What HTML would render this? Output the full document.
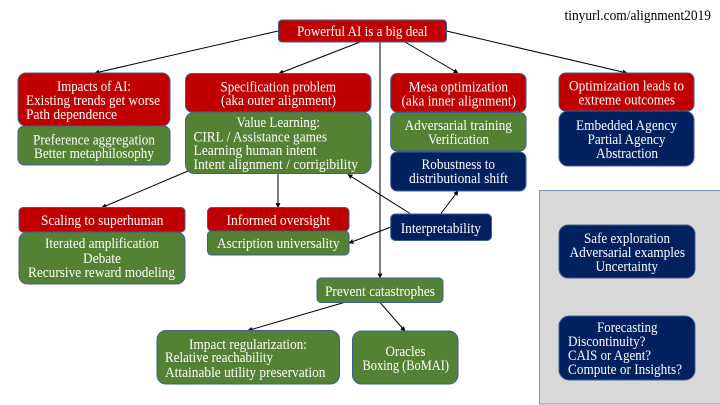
<!DOCTYPE html>
<html><head><meta charset="utf-8"><title>Alignment diagram</title>
<style>
html,body{margin:0;padding:0;background:#fff;width:720px;height:405px;overflow:hidden}
svg{display:block}
text{font-family:"Liberation Serif",serif;font-size:14.5px;fill:#fff}
rect.b{stroke:#3f5f94;stroke-width:1}
.r{fill:#c00000}.g{fill:#548235}.n{fill:#002060}
line{stroke:#000;stroke-width:1}
</style></head><body>
<svg width="720" height="405" viewBox="0 0 720 405" xmlns="http://www.w3.org/2000/svg">
<defs><marker id="a" viewBox="0 0 8 8" refX="7" refY="4" markerWidth="5" markerHeight="5" orient="auto" markerUnits="userSpaceOnUse"><path d="M0 0L8 4L0 8Z" fill="#000"/></marker></defs>
<rect width="720" height="405" fill="#fff"/>

<!-- grey panel -->
<rect x="539.5" y="190.5" width="183" height="213.5" fill="#d9d9d9" stroke="#7f93b8" stroke-width="1"/>

<!-- connectors -->
<g>
<line x1="278" y1="31" x2="95" y2="73" marker-end="url(#a)"/>
<line x1="360" y1="42" x2="279" y2="73.5" marker-end="url(#a)"/>
<line x1="405" y1="42" x2="458" y2="73" marker-end="url(#a)"/>
<line x1="446.5" y1="31" x2="627" y2="73" marker-end="url(#a)"/>
<line x1="380" y1="42" x2="380" y2="278" marker-end="url(#a)"/>
<line x1="188" y1="171" x2="102" y2="207.5" marker-end="url(#a)"/>
<line x1="278" y1="173.5" x2="278" y2="207.5" marker-end="url(#a)"/>
<line x1="410" y1="213.5" x2="348" y2="174.5" marker-end="url(#a)"/>
<line x1="441" y1="213.5" x2="458" y2="191" marker-end="url(#a)"/>
<line x1="391" y1="227" x2="349" y2="243" marker-end="url(#a)"/>
<line x1="344" y1="302.5" x2="248" y2="330.5" marker-end="url(#a)"/>
<line x1="380" y1="302.5" x2="405" y2="331" marker-end="url(#a)"/>
</g>

<!-- boxes -->
<rect class="b r" x="278.5" y="20" width="168" height="22" rx="3.5"/>
<rect class="b r" x="18" y="73" width="152" height="53" rx="8"/>
<rect class="b g" x="18" y="126" width="152" height="39" rx="6.5"/>
<rect class="b r" x="185.5" y="73.5" width="185.5" height="38.5" rx="6.5"/>
<rect class="b g" x="185.5" y="112" width="185.5" height="61.5" rx="9"/>
<rect class="b r" x="390.7" y="73.5" width="135.3" height="38.5" rx="6.5"/>
<rect class="b g" x="390.7" y="112.5" width="135.3" height="38.5" rx="6.5"/>
<rect class="b n" x="390.7" y="152" width="135.3" height="39" rx="6.5"/>
<rect class="b r" x="559" y="73" width="135" height="38" rx="6.5"/>
<rect class="b n" x="559" y="111" width="135" height="55" rx="9"/>
<rect class="b r" x="19" y="207.5" width="166" height="24.5" rx="4"/>
<rect class="b g" x="19" y="232" width="166" height="52" rx="8.5"/>
<rect class="b r" x="207.5" y="207.5" width="141.5" height="23.5" rx="4"/>
<rect class="b g" x="207.5" y="231" width="141.5" height="24" rx="4"/>
<rect class="b n" x="390.7" y="214" width="100.8" height="26.5" rx="4.5"/>
<rect class="b g" x="317" y="278" width="126" height="24.5" rx="4"/>
<rect class="b g" x="157" y="330.5" width="182.5" height="53.5" rx="9"/>
<rect class="b g" x="352.5" y="331" width="105.5" height="53" rx="9"/>
<rect class="b n" x="559" y="225" width="136" height="53" rx="9"/>
<rect class="b n" x="559" y="316" width="136" height="64" rx="10"/>

<!-- labels -->
<text x="564.5" y="20" textLength="146.5" lengthAdjust="spacingAndGlyphs" style="fill:#000">tinyurl.com/alignment2019</text>
<text x="297" y="36" textLength="130.5" lengthAdjust="spacingAndGlyphs">Powerful AI is a big deal</text>

<text x="57" y="91" textLength="74" lengthAdjust="spacingAndGlyphs">Impacts of AI:</text>
<text x="26" y="105" textLength="134" lengthAdjust="spacingAndGlyphs">Existing trends get worse</text>
<text x="26" y="119" textLength="91" lengthAdjust="spacingAndGlyphs">Path dependence</text>
<text x="33" y="144.5" textLength="122" lengthAdjust="spacingAndGlyphs">Preference aggregation</text>
<text x="34" y="158" textLength="120" lengthAdjust="spacingAndGlyphs">Better metaphilosophy</text>

<text x="220.5" y="91.5" textLength="115.5" lengthAdjust="spacingAndGlyphs">Specification problem</text>
<text x="221" y="105" textLength="115" lengthAdjust="spacingAndGlyphs">(aka outer alignment)</text>
<text x="236.5" y="127" textLength="83.5" lengthAdjust="spacingAndGlyphs">Value Learning:</text>
<text x="193.5" y="141.5" textLength="133.5" lengthAdjust="spacingAndGlyphs">CIRL / Assistance games</text>
<text x="193.5" y="155" textLength="123" lengthAdjust="spacingAndGlyphs">Learning human intent</text>
<text x="193.5" y="169" textLength="164.5" lengthAdjust="spacingAndGlyphs">Intent alignment / corrigibility</text>

<text x="408.7" y="91.5" textLength="99.3" lengthAdjust="spacingAndGlyphs">Mesa optimization</text>
<text x="401.5" y="105.5" textLength="114.5" lengthAdjust="spacingAndGlyphs">(aka inner alignment)</text>
<text x="404.5" y="130" textLength="107.5" lengthAdjust="spacingAndGlyphs">Adversarial training</text>
<text x="428" y="144" textLength="61" lengthAdjust="spacingAndGlyphs">Verification</text>
<text x="421.5" y="169" textLength="73.5" lengthAdjust="spacingAndGlyphs">Robustness to</text>
<text x="409" y="183" textLength="99" lengthAdjust="spacingAndGlyphs">distributional shift</text>

<text x="569" y="90.5" textLength="115" lengthAdjust="spacingAndGlyphs">Optimization leads to</text>
<text x="578.5" y="104.5" textLength="96.5" lengthAdjust="spacingAndGlyphs">extreme outcomes</text>
<text x="576" y="130" textLength="101" lengthAdjust="spacingAndGlyphs">Embedded Agency</text>
<text x="587.5" y="144" textLength="78" lengthAdjust="spacingAndGlyphs">Partial Agency</text>
<text x="596" y="158" textLength="62" lengthAdjust="spacingAndGlyphs">Abstraction</text>

<text x="41" y="225" textLength="122.5" lengthAdjust="spacingAndGlyphs">Scaling to superhuman</text>
<text x="45" y="248" textLength="114" lengthAdjust="spacingAndGlyphs">Iterated amplification</text>
<text x="83" y="263" textLength="38" lengthAdjust="spacingAndGlyphs">Debate</text>
<text x="28" y="277" textLength="147" lengthAdjust="spacingAndGlyphs">Recursive reward modeling</text>

<text x="226.5" y="225" textLength="103.5" lengthAdjust="spacingAndGlyphs">Informed oversight</text>
<text x="217" y="248" textLength="122.5" lengthAdjust="spacingAndGlyphs">Ascription universality</text>

<text x="400.7" y="233" textLength="80.3" lengthAdjust="spacingAndGlyphs">Interpretability</text>
<text x="325" y="296" textLength="110" lengthAdjust="spacingAndGlyphs">Prevent catastrophes</text>

<text x="189" y="349" textLength="118" lengthAdjust="spacingAndGlyphs">Impact regularization:</text>
<text x="165" y="362" textLength="108" lengthAdjust="spacingAndGlyphs">Relative reachability</text>
<text x="165" y="377" textLength="160.5" lengthAdjust="spacingAndGlyphs">Attainable utility preservation</text>
<text x="385.5" y="356" textLength="40" lengthAdjust="spacingAndGlyphs">Oracles</text>
<text x="362.5" y="370" textLength="86.5" lengthAdjust="spacingAndGlyphs">Boxing (BoMAI)</text>

<text x="584" y="243" textLength="86" lengthAdjust="spacingAndGlyphs">Safe exploration</text>
<text x="569.5" y="257" textLength="115.5" lengthAdjust="spacingAndGlyphs">Adversarial examples</text>
<text x="595.5" y="271" textLength="62.5" lengthAdjust="spacingAndGlyphs">Uncertainty</text>
<text x="597" y="332" textLength="60.5" lengthAdjust="spacingAndGlyphs">Forecasting</text>
<text x="568" y="346" textLength="77.5" lengthAdjust="spacingAndGlyphs">Discontinuity?</text>
<text x="568" y="360" textLength="83" lengthAdjust="spacingAndGlyphs">CAIS or Agent?</text>
<text x="568" y="374" textLength="114" lengthAdjust="spacingAndGlyphs">Compute or Insights?</text>
</svg>
</body></html>
